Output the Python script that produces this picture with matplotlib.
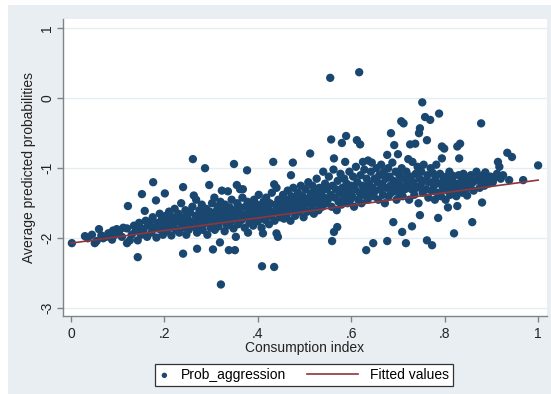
import matplotlib.pyplot as plt
import numpy as np
from matplotlib.legend_handler import HandlerLine2D, HandlerPathCollection
from matplotlib.patches import Rectangle

# ---------------------------------------------------------------------------
# Data: consumption index vs average predicted prob.
# ---------------------------------------------------------------------------
seg_low = [
    (0.002, -2.07), (0.030, -1.97), (0.036, -2.00), (0.045, -1.95), (0.051, -2.07),
    (0.055, -2.04), (0.060, -1.87), (0.065, -1.96), (0.069, -2.00), (0.075, -1.98),
    (0.080, -1.93), (0.084, -1.93), (0.088, -2.02), (0.090, -1.89), (0.095, -1.95),
    (0.098, -1.87), (0.103, -1.90), (0.109, -1.98), (0.112, -1.85), (0.120, -1.86),
    (0.120, -2.07), (0.122, -1.54), (0.126, -2.03), (0.130, -1.95), (0.135, -1.82),
    (0.138, -1.90), (0.143, -2.03), (0.143, -2.27), (0.146, -1.78), (0.148, -1.84),
    (0.150, -1.95), (0.152, -1.37), (0.155, -1.88), (0.158, -1.61), (0.160, -1.75),
    (0.163, -1.98), (0.165, -1.82), (0.169, -1.77), (0.172, -1.92), (0.175, -1.70),
    (0.176, -1.20), (0.178, -1.85), (0.182, -1.46), (0.183, -1.99), (0.186, -1.78),
    (0.190, -1.65), (0.192, -1.88), (0.195, -1.72), (0.197, -1.95), (0.200, -1.80),
    (0.201, -1.36), (0.203, -1.68), (0.205, -1.90), (0.208, -1.75), (0.210, -1.62),
    (0.212, -1.84), (0.215, -1.96), (0.218, -1.70), (0.220, -1.80), (0.222, -1.58),
    (0.225, -1.88), (0.228, -1.73), (0.230, -1.65), (0.232, -1.92), (0.235, -1.78),
    (0.236, -1.50), (0.238, -1.85), (0.240, -1.27), (0.240, -2.22), (0.242, -1.70),
    (0.245, -1.60), (0.247, -1.95), (0.248, -1.80), (0.250, -1.72), (0.252, -1.88),
    (0.255, -1.63), (0.258, -1.77), (0.260, -1.55), (0.261, -0.87), (0.263, -1.39),
    (0.265, -1.84), (0.267, -1.68), (0.268, -1.45), (0.270, -2.15), (0.270, -1.92),
    (0.272, -1.75), (0.275, -1.60), (0.277, -1.82), (0.279, -1.70), (0.280, -1.52),
    (0.282, -1.88), (0.285, -1.65), (0.287, -1.00), (0.288, -1.78), (0.290, -1.58),
    (0.292, -1.95), (0.294, -1.72), (0.296, -1.24), (0.297, -1.62), (0.299, -1.85),
]

seg_mid = [
    (0.300, -1.68), (0.302, -1.50), (0.304, -2.16), (0.305, -1.78), (0.307, -1.42),
    (0.308, -1.88), (0.310, -1.62), (0.312, -1.72), (0.314, -1.55), (0.316, -1.83),
    (0.318, -1.66), (0.319, -2.06), (0.320, -1.48), (0.321, -2.66), (0.323, -1.32),
    (0.325, -1.75), (0.327, -1.60), (0.329, -1.90), (0.330, -1.52), (0.332, -1.70),
    (0.334, -1.82), (0.336, -1.33), (0.338, -2.17), (0.338, -1.64), (0.340, -1.56),
    (0.342, -1.76), (0.344, -1.45), (0.346, -1.68), (0.348, -1.86), (0.349, -0.94),
    (0.350, -1.60), (0.351, -2.17), (0.352, -1.72), (0.353, -1.98), (0.355, -1.24),
    (0.356, -1.50), (0.358, -1.80), (0.360, -1.64), (0.362, -1.30), (0.363, -1.56),
    (0.365, -1.74), (0.367, -1.42), (0.368, -1.30), (0.370, -1.66), (0.372, -1.85),
    (0.374, -1.55), (0.376, -1.70), (0.377, -1.03), (0.378, -1.48), (0.379, -1.92),
    (0.380, -1.62), (0.382, -1.78), (0.384, -1.50), (0.386, -1.68), (0.388, -1.58),
    (0.390, -1.82), (0.392, -1.45), (0.394, -1.72), (0.396, -1.62), (0.398, -1.52),
    (0.400, -1.76), (0.402, -1.38), (0.404, -1.65), (0.406, -1.55), (0.408, -1.85),
    (0.409, -2.40), (0.410, -1.70), (0.411, -1.93), (0.412, -1.48), (0.414, -1.60),
    (0.416, -1.74), (0.418, -1.42), (0.420, -1.66), (0.422, -1.56), (0.424, -1.80),
    (0.426, -1.50), (0.428, -1.68), (0.430, -1.35), (0.432, -1.62), (0.433, -0.91),
    (0.435, -1.23), (0.435, -2.41), (0.436, -1.75), (0.438, -1.52), (0.440, -1.93),
    (0.440, -1.28), (0.442, -1.64), (0.443, -1.98), (0.444, -1.45), (0.446, -1.58),
    (0.448, -1.70), (0.450, -1.50), (0.452, -1.62), (0.454, -1.38), (0.456, -1.72),
    (0.458, -1.55), (0.460, -1.45), (0.462, -1.66), (0.464, -1.32), (0.466, -1.58),
    (0.468, -1.48), (0.470, -1.75), (0.471, -1.10), (0.472, -1.40), (0.474, -1.60),
    (0.475, -0.92), (0.476, -1.28), (0.478, -1.52), (0.480, -1.68), (0.482, -1.42),
    (0.484, -1.56), (0.486, -1.35), (0.488, -1.62), (0.490, -1.47), (0.492, -1.25),
    (0.494, -1.58), (0.496, -1.40), (0.498, -1.70), (0.500, -1.52), (0.502, -1.30),
    (0.504, -1.44), (0.506, -1.62), (0.508, -1.20), (0.510, -1.50), (0.512, -0.79),
    (0.513, -1.36), (0.515, -1.57), (0.517, -1.25), (0.519, -1.45), (0.520, -1.65),
    (0.522, -1.32), (0.524, -1.50), (0.526, -1.15), (0.528, -1.40), (0.530, -1.60),
    (0.532, -1.28), (0.534, -1.45), (0.536, -1.35), (0.538, -1.55), (0.540, -1.05),
    (0.542, -1.42), (0.544, -1.22), (0.546, -1.50), (0.548, -1.30), (0.550, -1.45),
    (0.552, -1.12), (0.555, 0.29), (0.556, -1.38), (0.557, -0.59), (0.558, -1.55),
    (0.559, -2.04), (0.560, -1.25), (0.562, -1.02), (0.563, -0.86), (0.563, -1.91),
    (0.565, -1.42), (0.567, -1.30), (0.569, -1.60), (0.570, -1.84), (0.571, -1.18),
    (0.573, -1.48), (0.575, -1.35), (0.577, -1.08), (0.579, -1.52), (0.580, -0.64),
    (0.581, -1.28), (0.583, -1.42), (0.585, -1.15), (0.587, -0.91), (0.588, -1.38),
    (0.589, -0.54), (0.590, -1.22), (0.592, -1.50), (0.594, -1.32), (0.596, -1.05),
    (0.598, -1.45),
]

seg_high = [
    (0.600, -1.25), (0.602, -1.40), (0.604, -1.12), (0.606, -1.55), (0.608, -1.30),
    (0.610, -0.98), (0.612, -0.60), (0.613, -1.20), (0.615, -1.45), (0.617, 0.37),
    (0.618, -1.35), (0.619, -0.66), (0.620, -1.10), (0.622, -1.50), (0.624, -1.25),
    (0.625, -0.91), (0.626, -1.38), (0.628, -1.02), (0.630, -1.30), (0.632, -2.17),
    (0.633, -1.15), (0.635, -1.45), (0.636, -0.89), (0.638, -1.22), (0.640, -1.35),
    (0.642, -1.05), (0.644, -0.92), (0.645, -1.28), (0.647, -2.07), (0.648, -1.40),
    (0.650, -1.15), (0.652, -1.32), (0.654, -1.00), (0.656, -1.20), (0.658, -1.45),
    (0.660, -1.10), (0.662, -1.30), (0.664, -0.95), (0.666, -1.22), (0.668, -1.38),
    (0.670, -1.05), (0.672, -1.50), (0.674, -1.15), (0.676, -1.28), (0.677, -0.81),
    (0.677, -2.04), (0.679, -1.00), (0.680, -1.40), (0.682, -1.12), (0.684, -1.25),
    (0.685, -0.50), (0.686, -1.35), (0.688, -0.92), (0.690, -1.77), (0.690, -1.18),
    (0.692, -0.67), (0.693, -1.30), (0.695, -1.05), (0.697, -1.45), (0.699, -1.20),
    (0.700, -0.80), (0.701, -1.35), (0.703, -1.10), (0.705, -1.25), (0.707, -0.33),
    (0.708, -1.00), (0.709, -1.91), (0.710, -1.40), (0.712, -0.36), (0.713, -1.15),
    (0.715, -1.30), (0.717, -2.07), (0.718, -1.05), (0.720, -1.22), (0.722, -0.87),
    (0.724, -1.45), (0.726, -0.66), (0.727, -1.12), (0.729, -1.30), (0.730, -1.83),
    (0.731, -0.91), (0.733, -1.20), (0.735, -1.38), (0.737, -0.65), (0.738, -1.08),
    (0.740, -1.28), (0.742, -0.98), (0.744, -1.50), (0.745, -0.50), (0.746, -1.15),
    (0.747, -1.67), (0.747, -0.43), (0.748, -1.25), (0.750, -1.05), (0.752, -0.06),
    (0.753, -1.35), (0.755, -0.95), (0.757, -1.18), (0.758, -0.27), (0.760, -1.30),
    (0.762, -0.60), (0.762, -2.03), (0.763, -1.10), (0.765, -1.42), (0.767, -1.20),
    (0.769, -0.31), (0.770, -1.00), (0.772, -1.32), (0.773, -2.10), (0.775, -1.07),
    (0.777, -1.25), (0.779, -1.45), (0.780, -1.15), (0.782, -0.95), (0.784, -1.35),
    (0.786, -1.71), (0.788, -0.22), (0.789, -1.22), (0.790, -1.08), (0.792, -1.40),
    (0.794, -0.69), (0.794, -0.86), (0.796, -1.30), (0.798, -1.15), (0.799, -0.72),
    (0.800, -1.25), (0.802, -1.45), (0.804, -1.12), (0.806, -1.32), (0.807, -1.56),
    (0.808, -1.20), (0.810, -1.05), (0.812, -1.38), (0.814, -1.25), (0.816, -1.15),
    (0.818, -1.11), (0.820, -1.93), (0.821, -1.30), (0.823, -1.22), (0.825, -1.40),
    (0.827, -0.69), (0.827, -1.54), (0.829, -1.31), (0.830, -1.10), (0.831, -0.86),
    (0.833, -0.65), (0.834, -1.25), (0.836, -1.18), (0.838, -1.35), (0.840, -1.08),
    (0.842, -1.22), (0.844, -1.13), (0.846, -1.30), (0.848, -1.39), (0.850, -1.15),
    (0.853, -1.25), (0.856, -1.10), (0.859, -1.21), (0.859, -1.77), (0.862, -1.32),
    (0.865, -1.18), (0.868, -1.05), (0.872, -1.14), (0.875, -1.28), (0.878, -0.36),
    (0.878, -1.20), (0.880, -1.49), (0.882, -1.10), (0.885, -1.25), (0.887, -1.06),
    (0.890, -1.18), (0.894, -1.22), (0.898, -1.12), (0.903, -1.20), (0.908, -1.13),
    (0.912, -1.08), (0.914, -0.91), (0.917, -0.98), (0.920, -1.15), (0.925, -1.10),
    (0.934, -0.78), (0.938, -1.17), (0.944, -0.84), (0.968, -1.17), (1.000, -0.96),
]

# Fitted values (linear fit drawn in the original)
fit_x = [0.0, 1.0]
fit_y = [-2.07, -1.17]

x_ticks = [0, 0.2, 0.4, 0.6, 0.8, 1.0]
x_ticklabels = ["0", ".2", ".4", ".6", ".8", "1"]
y_ticks = [-3, -2, -1, 0, 1]
y_ticklabels = ["-3", "-2", "-1", "0", "1"]

# ---------------------------------------------------------------------------
# Style (Stata s2color look)
# ---------------------------------------------------------------------------
NAVY = "#1A476F"
MAROON = "#90353B"
REGION = "#E8EEF1"
GRID = "#E6EDF0"
AXIS = "#7F8487"
TEXT = "#222222"
FS = 10

plt.rcParams["font.family"] = ["Liberation Sans", "DejaVu Sans"]


class LongLineHandler(HandlerLine2D):
    # legend line that reaches further left than the (short) handle box
    def get_xdata(self, legend, xdescent, ydescent, width, height, fontsize):
        x_end = -xdescent + width
        xdata = [x_end - 3.67 * fontsize, x_end]
        return xdata, xdata


W, H = 551, 394
fig = plt.figure(figsize=(W / 100, H / 100), dpi=100)
fig.patch.set_facecolor("white")
fig.patches.append(
    Rectangle((8 / W, 0), 1 - 8 / W, 1 - 5 / H, transform=fig.transFigure,
              facecolor=REGION, edgecolor="none", zorder=-10)
)

ax = fig.add_axes([63 / W, 1 - 316 / H, (547 - 63) / W, (316 - 19) / H])
ax.set_facecolor("white")

pts = np.array(seg_low + seg_mid + seg_high)
sc = ax.scatter(pts[:, 0], pts[:, 1], s=36, color=NAVY, edgecolors="none",
                zorder=3, label="Prob_aggression")
(ln,) = ax.plot(fit_x, fit_y, color=MAROON, linewidth=1.2, zorder=4,
                label="Fitted values")

ax.set_xlim(-0.017, 1.019)
ax.set_ylim(-3.11, 1.13)
ax.set_xticks(x_ticks)
ax.set_xticklabels(x_ticklabels)
ax.set_yticks(y_ticks)
ax.set_yticklabels(y_ticklabels, rotation=90, va="center")

for yv in y_ticks:
    ax.axhline(yv, color=GRID, linewidth=1.0, zorder=1)

for side in ["top", "right"]:
    ax.spines[side].set_visible(False)
for side in ["left", "bottom"]:
    ax.spines[side].set_color(AXIS)
    ax.spines[side].set_linewidth(1.0)

ax.tick_params(axis="both", direction="out", length=4.3, width=1.0,
               color=AXIS, labelsize=FS, labelcolor=TEXT)
ax.tick_params(axis="y", pad=2)

ax.set_xlabel("Consumption index", fontsize=FS, color=TEXT, labelpad=0)
ax.set_ylabel("Average predicted probabilities", fontsize=FS,
              color=TEXT, labelpad=3)

leg = fig.legend(handles=[sc, ln], loc="center",
                 bbox_to_anchor=(304 / W, 1 - 375 / H),
                 ncol=2, fontsize=FS, frameon=True, fancybox=False,
                 edgecolor="#333333", framealpha=1.0, borderpad=0.3,
                 columnspacing=4.4, handlelength=0.72, handletextpad=0.86,
                 scatterpoints=1, markerscale=0.65,
                 handler_map={ln: LongLineHandler(),
                              sc: HandlerPathCollection()})
leg.get_frame().set_linewidth(0.9)

fig.savefig("out.png", dpi=100, facecolor=fig.get_facecolor())
